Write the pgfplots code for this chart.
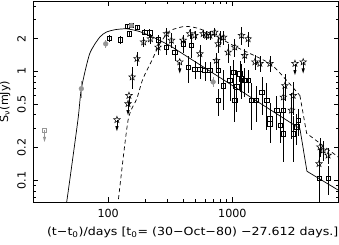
\documentclass[border=0pt]{standalone}
\usepackage{pgfplots}
\pgfplotsset{compat=1.18}
\usepackage{fontspec}
\setmainfont{DejaVu Sans}
\definecolor{gry}{RGB}{150,150,150}

\pgfdeclareplotmark{ostar}{%
  \pgfpathmoveto{\pgfpointpolar{90}{\pgfplotmarksize}}%
  \pgfpathlineto{\pgfpointpolar{126}{0.42\pgfplotmarksize}}%
  \pgfpathlineto{\pgfpointpolar{162}{\pgfplotmarksize}}%
  \pgfpathlineto{\pgfpointpolar{198}{0.42\pgfplotmarksize}}%
  \pgfpathlineto{\pgfpointpolar{234}{\pgfplotmarksize}}%
  \pgfpathlineto{\pgfpointpolar{270}{0.42\pgfplotmarksize}}%
  \pgfpathlineto{\pgfpointpolar{306}{\pgfplotmarksize}}%
  \pgfpathlineto{\pgfpointpolar{342}{0.42\pgfplotmarksize}}%
  \pgfpathlineto{\pgfpointpolar{18}{\pgfplotmarksize}}%
  \pgfpathlineto{\pgfpointpolar{54}{0.42\pgfplotmarksize}}%
  \pgfpathclose
  \pgfusepathqstroke
}
\pgfdeclareplotmark{ularrow}{%
  \pgfpathmoveto{\pgfqpoint{0pt}{0pt}}%
  \pgfpathlineto{\pgfqpoint{0pt}{-8pt}}%
  \pgfusepathqstroke
  \pgfpathmoveto{\pgfqpoint{-1.6pt}{-6.5pt}}%
  \pgfpathlineto{\pgfqpoint{0pt}{-11.5pt}}%
  \pgfpathlineto{\pgfqpoint{1.6pt}{-6.5pt}}%
  \pgfpathclose
  \pgfusepathqfill
}

\begin{document}
\begin{tikzpicture}
\begin{axis}[
  at={(0,0)}, anchor=south west,
  scale only axis, width=305.5bp, height=201bp,
  xmode=log, ymode=log,
  xmin=24.8, xmax=7160, ymin=0.0632, ymax=4.43,
  axis line style={line width=0.6bp},
  tick style={line width=0.5bp, black},
  major tick length=5bp, minor tick length=3bp,
  tick align=inside,
  xtick={100,1000}, xticklabels={100,1000},
  ytick={0.1,0.2,0.5,1,2}, yticklabels={0.1,0.2,0.5,1,2},
  minor ytick={0.07,0.08,0.09,0.3,0.4,0.6,0.7,0.8,0.9,3,4},
  /pgf/number format/assume math mode=true,
  tick label style={font=\fontsize{11.2}{12}\selectfont},
  xticklabel style={anchor=center, yshift=-11.5bp},
  yticklabel style={xshift=-11.5bp, rotate=90, anchor=center},
  every axis x label/.style={at={(axis description cs:0.5,0)}, anchor=center, xshift=7bp, yshift=-30bp},
  every axis y label/.style={at={(axis description cs:0,0.5)}, xshift=-28bp, rotate=90, anchor=center},
  label style={font=\fontsize{11.2}{12}\selectfont},
  xlabel={\scalebox{1.13}[1]{(t−t\textsubscript{0})/days [t\textsubscript{0}= (30−Oct−80) −27.612 days.]}},
  ylabel={S\textsubscript{ν}(mJy)},
  clip=true,
]
% model curves
\addplot[black, line width=0.7bp, smooth, tension=0.4] coordinates {
 (44,0.05) (46.3,0.063) (57,0.355) (60.8,0.694) (70.9,1.45) (85.4,2.06) (97,2.30) (115,2.42) (141,2.46) (179.5,2.32) (237,2.03) (313,1.73)};
\addplot[black, line width=0.7bp] coordinates {
 (313,1.73) (3500,0.298) (3990,0.121) (7160,0.081)};
\addplot[black, line width=0.7bp, dash pattern=on 4bp off 3bp, smooth, tension=0.4] coordinates {
 (118,0.05) (120,0.062) (144.5,0.355) (170,0.56) (190,0.85) (224,1.25) (260,1.79) (313,2.35) (414,2.59) (520,2.5) (659,2.25) (1081,1.67) (2006,1.18) (2735,0.827) (3500,0.60)};
\addplot[black, line width=0.7bp, dash pattern=on 4bp off 3bp] coordinates {
 (3500,0.60) (3966,0.27) (7160,0.163)};

% squares
\addplot[black, line width=0.5bp, only marks, mark=square, mark size=2.2bp,
  error bars/.cd, y dir=both, y explicit, error mark=none,
  error bar style={line width=0.5bp}]
 table[x=x, y=y, y error=e] {
x y e
101.5 2.02 0.15
125 1.95 0.15
141.7 2.59 0.12
153.7 2.64 0.12
170.6 2.55 0.12
147 2.22 0.15
197 2.29 0.15
216 2.26 0.2
252 1.95 0.2
295 1.67 0.25
344 1.50 0.25
401 1.79 0.3
469 1.73 0.4
440 1.09 0.3
498 1.05 0.2
548 1.05 0.2
600 1.02 0.2
660 1.02 0.2
769 1.02 0.25
849 0.74 0.3
954 0.83 0.3
1015 0.985 0.3
1150 0.95 0.3
1185 0.857 0.3
1257 0.83 0.25
1340 0.83 0.2
1081 0.72 0.3
769 0.54 0.15
1045 0.54 0.2
1425 0.54 0.25
1565 0.54 0.2
1725 0.646 0.25
1890 0.54 0.25
2006 0.368 0.15
2277 0.44 0.15
2575 0.44 0.15
2006 0.331 0.1
2420 0.32 0.1
2575 0.268 0.12
3090 0.268 0.12
3300 0.31 0.1
3400 0.355 0.1
4990 0.104 0.06
5900 0.104 0.03
};

% stars
\addplot[black, line width=0.5bp, only marks, mark=ostar, mark size=3.5bp,
  error bars/.cd, y dir=both, y explicit, error mark=none,
  error bar style={line width=0.5bp}]
 table[x=x, y=y, y error=e] {
x y e
156 0.887 0.2
170.6 1.31 0.2
193 1.86 0.2
219 1.99 0.2
252 1.67 0.25
295 2.22 0.3
323 1.93 0.3
401 1.93 0.25
454 2.22 0.25
498 2.14 0.2
548 1.45 0.3
582 2.22 0.2
620 2.14 0.2
660 2.14 0.2
721 2.29 0.2
744 1.26 0.2
769 1.79 0.3
793 2.06 0.3
849 2.06 0.3
925 1.50 0.3
1045 1.67 0.3
1185 2.14 0.4
1257 1.40 0.2
1340 1.99 0.3
1520 1.22 0.2
1667 1.18 0.2
2006 1.18 0.2
2575 0.58 0.15
2650 0.74 0.2
2990 0.44 0.2
3090 0.60 0.2
4990 0.142 0.05
5080 0.202 0.04
5400 0.189 0.04
5900 0.17 0.03
};

% star upper limits
\addplot[black, line width=0.5bp, only marks, mark=ostar, mark size=3.5bp] table {
117.6 0.36
144.5 0.505
147 0.60
377 1.22
3193 1.18
3720 1.22
};
\addplot[black, line width=0.5bp, only marks, mark=ularrow, mark options={fill=black}] table {
117.6 0.36
144.5 0.505
147 0.60
377 1.22
3193 1.18
3720 1.22
};

% grey points
\addplot[gry, line width=0.5bp, only marks, mark=square, mark size=2.2bp] table {
30.7 0.287
};
\addplot[gry, line width=0.5bp, only marks, mark=ularrow, mark options={fill=gry}] table {
30.7 0.287
};
\addplot[gry, only marks, mark=*, mark size=2.4bp,
  error bars/.cd, y dir=both, y explicit, error mark=none,
  error bar style={line width=0.7bp, gry}]
 table[x=x, y=y, y error=e] {
x y e
60.8 0.694 0.12
95.5 1.79 0.15
153.7 2.64 0.1
700 0.80 0.08
};
\end{axis}
\pgfresetboundingbox
\useasboundingbox (-33bp,-43bp) rectangle (306bp,202bp);
\end{tikzpicture}
\end{document}
